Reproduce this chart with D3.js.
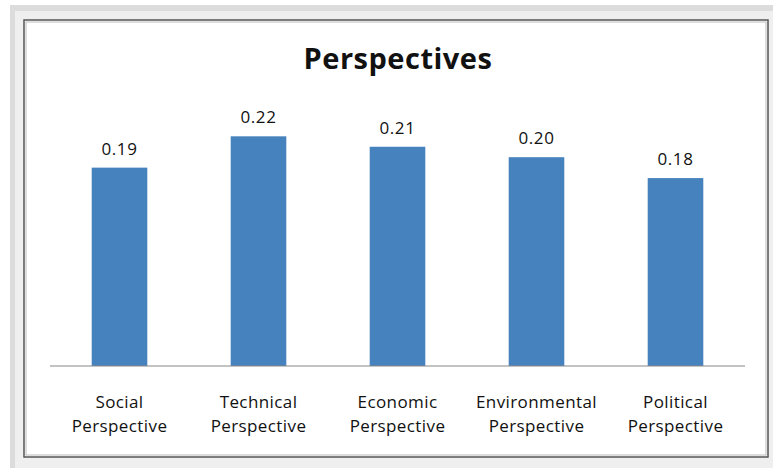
<!DOCTYPE html>
<html>
<head>
<meta charset="utf-8">
<script src="https://cdn.jsdelivr.net/npm/d3@7"></script>
<style>
  body { margin: 0; background: #fff; }
  svg { display: block; }
  text { font-family: "Open Sans", Lato, sans-serif; fill: #111; }
</style>
</head>
<body>
<svg id="chart" width="773" height="468"></svg>
<script>
const categories = [['Social', 'Perspective'], ['Technical', 'Perspective'], ['Economic', 'Perspective'],
  ['Environmental', 'Perspective'], ['Political', 'Perspective']];
const values = [0.19, 0.22, 0.21, 0.20, 0.18];
const valueLabels = ['0.19', '0.22', '0.21', '0.20', '0.18'];
const title = 'Perspectives';

const svg = d3.select('#chart');

// frame like an office chart screenshot
svg.append('rect').attr('x', 10).attr('y', 5).attr('width', 763).attr('height', 463).attr('fill', '#dcdcdc');
svg.append('rect').attr('x', 15).attr('y', 11).attr('width', 758).attr('height', 457).attr('fill', '#efefef');
svg.append('rect').attr('x', 24).attr('y', 20).attr('width', 744).attr('height', 437)
  .attr('fill', '#fff').attr('stroke', '#555').attr('stroke-width', 1.5);
svg.append('rect').attr('x', 26).attr('y', 22).attr('width', 740).attr('height', 433)
  .attr('fill', 'none').attr('stroke', '#bbb').attr('stroke-width', 1);

const base = 366;
const x = d3.scaleBand().domain(d3.range(values.length)).range([50, 745]).paddingInner(0.6).paddingOuter(0.3);
const y = d3.scaleLinear().domain([0, 0.25]).range([base, base - 261]);

svg.append('text').attr('x', 398).attr('y', 69).attr('text-anchor', 'middle')
  .style('font-size', '29px').style('font-weight', 'bold').style('letter-spacing', '0.5px').text(title);

svg.selectAll('.bar').data(values).enter().append('rect')
  .attr('class', 'bar')
  .attr('x', (d, i) => x(i))
  .attr('y', d => y(d))
  .attr('width', x.bandwidth())
  .attr('height', d => base - y(d))
  .attr('fill', '#4682BE');

svg.selectAll('.val').data(values).enter().append('text')
  .attr('class', 'val')
  .attr('x', (d, i) => x(i) + x.bandwidth() / 2)
  .attr('y', d => y(d) - 13)
  .attr('text-anchor', 'middle')
  .style('font-size', '17px')
  .style('letter-spacing', '0.6px')
  .text((d, i) => valueLabels[i]);

svg.append('line').attr('x1', 50).attr('x2', 745).attr('y1', base).attr('y2', base)
  .attr('stroke', '#888').attr('stroke-width', 1.2);

const cat = svg.selectAll('.cat').data(categories).enter().append('text')
  .attr('class', 'cat')
  .attr('text-anchor', 'middle')
  .style('font-size', '17px')
  .style('letter-spacing', '0.4px');
cat.selectAll('tspan').data(d => d).enter().append('tspan')
  .attr('x', function () { return x(categories.indexOf(d3.select(this.parentNode).datum())) + x.bandwidth() / 2; })
  .attr('y', (d, j) => 408 + j * 24)
  .text(d => d);
</script>
</body>
</html>
